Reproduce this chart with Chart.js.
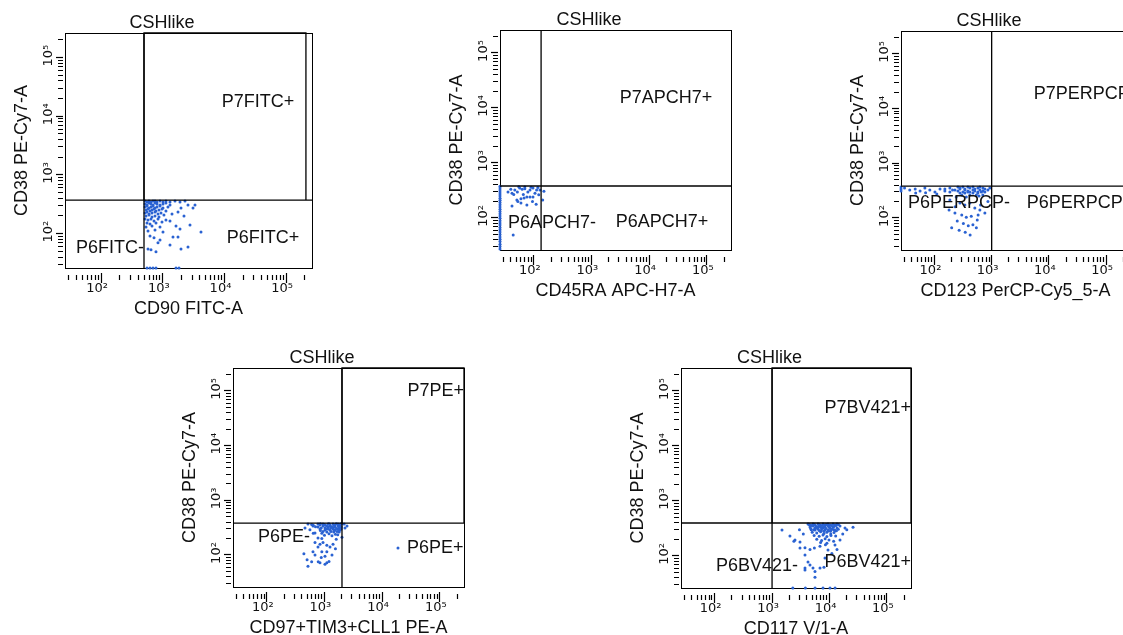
<!DOCTYPE html>
<html>
<head>
<meta charset="utf-8">
<script src="https://cdn.jsdelivr.net/npm/chart.js@4.4.1/dist/chart.umd.min.js"></script>
<style>
  html, body { margin: 0; padding: 0; background: #fff; overflow: hidden; }
  body { width: 1123px; height: 635px; position: relative; }
  canvas { position: absolute; }
</style>
</head>
<body>
<canvas id="p1"></canvas>
<canvas id="p2"></canvas>
<canvas id="p3"></canvas>
<canvas id="p4"></canvas>
<canvas id="p5"></canvas>
<script>
// axis range and tick labels (log display, same for every plot)
const axisMin = 26;
const axisMax = 262144;
const tickExps = [2, 3, 4, 5];
const tickLabels = ['10²', '10³', '10⁴', '10⁵'];

const panelTitle = 'CSHlike';
const yTitle = 'CD38 PE-Cy7-A';
const xTitles = ['CD90 FITC-A', 'CD45RA APC-H7-A', 'CD123 PerCP-Cy5_5-A', 'CD97+TIM3+CLL1 PE-A', 'CD117 V/1-A'];

// quadrant gates
const gateX = [496, 134, 1000, 2013, 1000];
const gateY = [374, 380, 384, 384, 396];
const p7Right = [209000, null, null, 262144, 262144];

// events [x, y]
const cd90Points = [
  [515,359],[555,345],[598,359],[644,345],[694,359],[748,359],[806,345],[901,359],[1007,345],[1126,359],[1308,345],[1578,359],[1901,345],[2290,359],
  [515,320],[555,308],[598,333],[644,320],[694,308],[748,333],[806,320],[901,308],[1007,320],[1126,333],[1308,308],
  [515,285],[555,296],[598,274],[644,285],[694,296],[748,274],[806,285],[901,296],[1007,274],[1213,285],
  [535,253],[576,263],[621,243],[669,253],[721,263],[776,243],[868,253],[970,263],[1126,243],
  [515,225],[555,234],[598,216],[669,225],[748,234],[836,216],[935,225],
  [535,200],[598,208],[669,192],[748,200],[868,192],[1045,208],[1410,216],
  [515,178],[576,171],[644,178],[721,165],[836,178],[1126,171],
  [555,152],[621,146],[776,152],[970,158],[1308,165],
  [535,130],[669,135],[901,130],[1638,135],
  [576,111],[748,115],[1007,107],[1901,120],[2759,141],
  [3090,274],[2560,308],[1973,274],[1764,234],[2205,200],[3324,308],
  [621,91],[721,85],[1463,88],[1764,88],[4160,107],
  [644,53],[576,55],[776,49],[836,70],[901,78],[1973,55],[2560,59],[1308,64],
  [555,26],[621,26],[694,26],[776,26],[1638,26],[1831,26]
];
const cd45raPoints = [
  [35.8,295],[42,280],[47,321],[52,295],[57,349],[63,330],[70,340],[79,295],[86,321],[97,349],[112,321],[128,321],[150,306],
  [51,211],[60,222],[68,230],[76,240],[86,240],[97,240],[143,211],
  [42,164],[53,198],[76,172],[95,198],[60,186],[110,176],
  [45,265],[66,265],[105,280],[122,262],[40,330],[90,360],[118,355],[70,365],[55,370],
  [44,49],
  [26,375],[26,350],[26,322],[26,296],[26,272],[26,250],[26,228],[26,208],[26,190],[26,173],[26,158],[26,144],[26,131],[26,119],
  [26,108],[26,98],[26,89],[26,81],[26,74],[26,67],[26,61],[26,55],[26,50],[26,45],[26,41],[26,37],[26,33],[26,30],[26,27]
];
const cd123Points = [
  [257,369],[279,354],[314,369],[340,339],[384,369],[416,354],[470,369],[508,339],[574,354],[622,369],[702,354],[760,339],
  [228,325],[257,312],[279,339],[314,299],[340,325],[384,312],[416,299],[470,325],[508,312],[574,299],[622,325],[702,312],
  [279,286],[340,286],[384,299],[470,286],[574,286],[660,299],[760,299],[858,325],
  [186,354],[207,325],[152,339],[186,299],[300,263],[416,263],[540,263],[700,263],[929,354],
  [240,242],[360,242],[600,252],
  [26,369],[26,339],[26,312],[30,354],[37,325],[46,339],[56,312],[68,354],[83,325],[102,299],[125,339],[152,312],[47,286],[70,290],[110,275],
  [186,213],[279,188],[340,173],[416,188],[508,152],[622,140],[640,173],[228,123],[300,113],[360,103],[440,108],[560,92],[580,113],
  [250,88],[320,79],[390,72],[470,75],[270,60],[345,55],[420,49],[540,66],[200,66],[760,123],[860,200],[180,140],[230,160]
];
const cd97Points = [
  [773,369],[837,354],[944,369],[1022,354],[1152,369],[1248,354],[1407,369],[1524,354],[1718,369],[1860,354],[2013,369],
  [773,325],[944,339],[1022,312],[1152,325],[1248,339],[1407,312],[1524,325],[1718,339],[1860,312],[1960,325],
  [837,299],[1022,287],[1152,299],[1248,287],[1407,299],[1524,287],[1718,299],[1860,287],
  [944,270],[1100,262],[1300,270],[1450,262],[1650,270],[1800,262],
  [900,250],[1200,245],[1550,240],[1000,230],[1350,225],[1700,235],
  [700,330],[640,350],[600,362],[850,280],
  [850,372],[990,362],[1090,340],[1200,372],[1330,330],[1460,345],[1600,372],[1780,330],[1920,372],
  [880,310],[1070,300],[1280,310],[1480,280],[1620,305],[1780,280],[1950,300],
  [460,312],[518,369],[633,339],[686,253],[773,205],[686,170],[837,158],[944,170],[1100,150],[773,140],[900,115],[1100,115],
  [1022,95],[686,100],[600,75],[837,72],[1100,72],[518,62],[1248,140],[1407,158],[1600,195],[2013,210],[2270,312],[2458,339],[2200,369],
  [440,105],[500,82],[633,115],[780,75],[880,90],[1022,68],[1200,76],[1350,100],[1550,130],[900,200],[560,290],[640,250],
  [18800,134]
];
const cd117Points = [
  [4222,380],[4571,365],[5160,380],[5585,365],[6302,380],[6825,365],[7703,380],[8340,365],[9414,380],[10200,365],[11500,380],[12470,365],[13500,380],
  [4571,335],[5160,349],[5585,321],[6302,335],[6825,349],[7703,321],[8340,335],[9414,349],[10200,321],[11500,335],[13500,321],[15240,349],
  [4800,300],[5585,295],[6302,308],[7200,290],[8340,300],[9414,285],[10800,300],[12470,290],[14200,305],
  [5000,270],[6000,260],[7000,275],[8000,255],[9000,270],[10500,250],[12000,265],
  [5400,235],[6600,228],[7700,240],[9000,225],[10600,235],[12800,230],
  [6000,200],[7300,190],[8400,205],[9800,195],[11800,185],[7000,175],[9000,170],
  [4400,372],[4900,358],[5400,372],[5900,343],[6500,372],[7000,330],[7400,358],[8000,343],[8800,372],[9800,340],[10800,358],[11900,343],[13000,358],[14300,372],
  [4700,315],[5300,300],[6000,320],[6600,290],[7300,310],[8000,280],[8700,315],[9600,300],[10400,280],[11200,310],[12100,300],[13200,285],
  [1490,295],[2506,194],[2050,230],[3062,139],[3741,104],[4222,77],[5160,60],[3741,60],[5585,41],[6825,60],[8340,91],[9414,128],
  [12470,158],[15240,194],[18620,321],[25670,330],
  [2400,185],[3062,179],[3741,140],[4571,130],[5450,139],[6825,150],[8500,160],[4571,68],[3741,55],[5585,52],[8000,62],[11000,110],
  [13500,130],[20000,300],[17000,250],[3500,250],[3000,300],
  [2300,26],[3800,26],[5600,26],[7700,26],[10200,26],[12500,26]
];
const pointSets = [cd90Points, cd45raPoints, cd123Points, cd97Points, cd117Points];

// gate names: [text, x, y, align]
const quadLabels = [
  [['P7FITC+', 34900, 17500, 'center'], ['P6FITC+', 42000, 84, 'center'], ['P6FITC-', 496, 57, 'right']],
  [['P7APCH7+', 19600, 15200, 'center'], ['P6APCH7+', 16700, 84, 'center'], ['P6APCH7-', 35.8, 81, 'left']],
  [['P7PERPCP+', 5440, 18500, 'left'], ['P6PERPCP-', 34.4, 188, 'left'], ['P6PERPCP+', 4110, 188, 'left']],
  [['P7PE+', 262144, 99500, 'right'], ['P6PE+', 26900, 134, 'left'], ['P6PE-', 561, 213, 'right']],
  [['P7BV421+', 262144, 49100, 'right'], ['P6BV421+', 262144, 77, 'right'], ['P6BV421-', 2830, 65, 'right']]
];

// canvas placement on the page
const panels = [
  { id: 'p1', left: 0,   top: 9,   width: 324, height: 311 },
  { id: 'p2', left: 435, top: 6,   width: 308, height: 296 },
  { id: 'p3', left: 836, top: 7,   width: 306, height: 295 },
  { id: 'p4', left: 168, top: 344, width: 308, height: 295 },
  { id: 'p5', left: 616, top: 344, width: 307, height: 296 }
];

const FONT = '"Liberation Sans", Arial, sans-serif';
const TICK_FONT = '"DejaVu Sans", sans-serif';
const INK = '#000';
const DOT = '#2a62d2';
Chart.defaults.font.family = FONT;
Chart.defaults.color = INK;

function logTickList() {
  const list = [];
  for (let e = 1; e <= 5; e++) {
    for (let m = 1; m <= 9; m++) {
      const v = m * Math.pow(10, e);
      if (v >= axisMin && v <= axisMax) list.push({ value: v });
    }
  }
  return list;
}

function decadeIndex(v) {
  const e = Math.round(Math.log10(v));
  return Math.abs(v / Math.pow(10, e) - 1) < 1e-9 ? tickExps.indexOf(e) : -1;
}

function tickText(value) {
  const k = decadeIndex(value);
  return k >= 0 ? tickLabels[k] : '';
}

const isMajor = (c) => c.tick && decadeIndex(c.tick.value) >= 0;

// frame + gate names
const panelFrame = {
  id: 'panelFrame',
  beforeDatasetsDraw(chart) {
    const { ctx, chartArea: a } = chart;
    ctx.save();
    ctx.strokeStyle = INK;
    ctx.lineWidth = 1;
    ctx.strokeRect(Math.round(a.left) + 0.5, Math.round(a.top) + 0.5,
      Math.round(a.right - a.left), Math.round(a.bottom - a.top));
    ctx.restore();
  },
  afterDatasetsDraw(chart, args, opts) {
    const { ctx, scales } = chart;
    ctx.save();
    ctx.font = '18px ' + FONT;
    ctx.fillStyle = '#111';
    ctx.textBaseline = 'middle';
    (opts.labels || []).forEach(([text, vx, vy, align]) => {
      ctx.textAlign = align;
      ctx.fillText(text, scales.x.getPixelForValue(vx), scales.y.getPixelForValue(vy));
    });
    ctx.restore();
  }
};

function gateLine(points) {
  return {
    data: points,
    showLine: true,
    pointRadius: 0,
    pointHoverRadius: 0,
    borderColor: INK,
    borderWidth: 1.3,
    clip: false
  };
}

function makePanel(i) {
  const p = panels[i];
  const cv = document.getElementById(p.id);
  cv.width = p.width;
  cv.height = p.height;
  cv.style.left = p.left + 'px';
  cv.style.top = p.top + 'px';

  const gx = gateX[i], gy = gateY[i];
  const datasets = [
    gateLine([{ x: gx, y: axisMin }, { x: gx, y: axisMax }]),
    gateLine([{ x: axisMin, y: gy }, { x: axisMax, y: gy }])
  ];
  if (p7Right[i]) {
    datasets.push(gateLine([
      { x: gx, y: gy }, { x: gx, y: axisMax },
      { x: p7Right[i], y: axisMax }, { x: p7Right[i], y: gy }
    ]));
  }
  datasets.push({
    data: pointSets[i].map(([x, y]) => ({ x, y })),
    pointRadius: 1.5,
    pointHoverRadius: 0,
    pointBorderWidth: 0,
    backgroundColor: DOT,
    borderColor: DOT,
    clip: false
  });

  new Chart(cv, {
    type: 'scatter',
    data: { datasets },
    plugins: [panelFrame],
    options: {
      responsive: false,
      animation: false,
      events: [],
      layout: { padding: { left: 12, right: 12, top: 0, bottom: 0 } },
      plugins: {
        legend: { display: false },
        tooltip: { enabled: false },
        title: {
          display: true,
          text: panelTitle,
          color: '#111',
          font: { size: 18, weight: 'normal', lineHeight: 1 },
          padding: { top: 5, bottom: 1 }
        },
        panelFrame: { labels: quadLabels[i] }
      },
      scales: {
        y: {
          type: 'logarithmic',
          position: 'left',
          min: axisMin,
          max: axisMax,
          afterBuildTicks: (s) => { s.ticks = logTickList(); },
          afterFit: (s) => { s.width = 53; },
          border: { display: false },
          grid: {
            drawOnChartArea: false,
            tickLength: 9,
            tickColor: INK,
            tickWidth: 1.2,
            tickBorderDash: (c) => isMajor(c) ? [7, 100] : [0, 2, 5, 100]
          },
          ticks: {
            autoSkip: false,
            minRotation: 90,
            maxRotation: 90,
            crossAlign: 'center',
            padding: -4,
            labelOffset: -2,
            color: '#111',
            font: { family: TICK_FONT, size: 13 },
            callback: tickText
          },
          title: {
            display: true,
            text: yTitle,
            color: '#111',
            font: { size: 18, lineHeight: 1 },
            padding: { top: 1, bottom: 0 }
          }
        },
        x: {
          type: 'logarithmic',
          position: 'bottom',
          min: axisMin,
          max: axisMax,
          afterBuildTicks: (s) => { s.ticks = logTickList(); },
          afterFit: (s) => { s.height = 52; },
          border: { display: false },
          grid: {
            drawOnChartArea: false,
            tickLength: 15,
            tickColor: INK,
            tickWidth: 1.2,
            tickBorderDash: (c) => isMajor(c) ? [0, 5, 10, 100] : [0, 7, 5, 100]
          },
          ticks: {
            autoSkip: false,
            minRotation: 0,
            maxRotation: 0,
            padding: -2,
            labelOffset: -4,
            color: '#111',
            font: { family: TICK_FONT, size: 13 },
            callback: tickText
          },
          title: {
            display: true,
            text: xTitles[i],
            color: '#111',
            font: { size: 18, lineHeight: 1 },
            padding: { top: 0, bottom: 2 }
          }
        }
      }
    }
  });
}

for (let i = 0; i < panels.length; i++) makePanel(i);
</script>
</body>
</html>
